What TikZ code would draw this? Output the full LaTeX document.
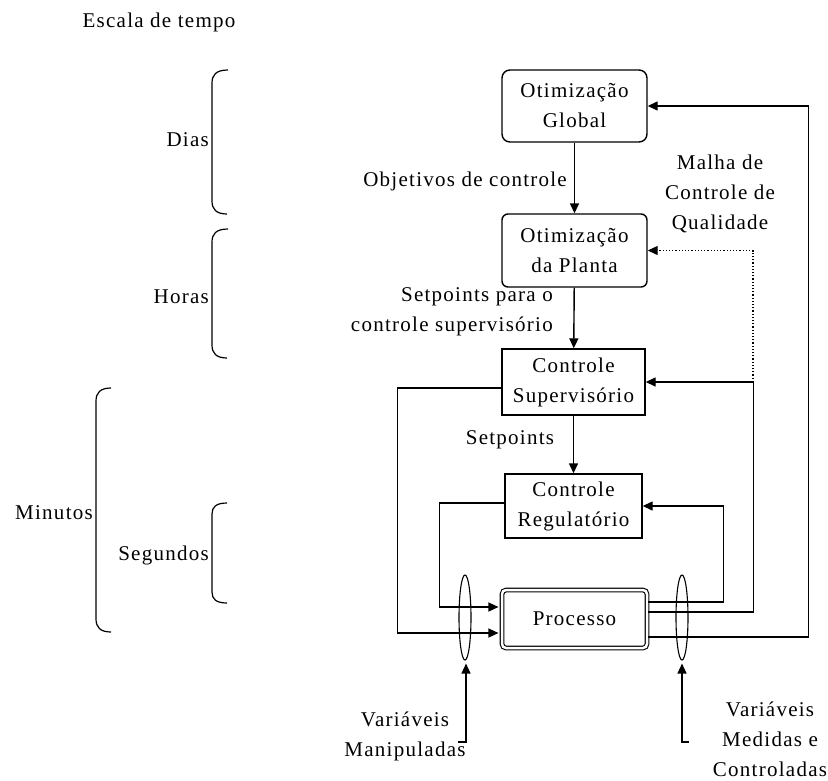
\documentclass[tikz,border=0pt]{standalone}
\usepackage{fontspec}
\setmainfont{Liberation Serif}[LetterSpace=6]
\usetikzlibrary{arrows.meta,shapes.geometric,calc}

\tikzset{
  lbl/.style={font=\fontsize{21}{30}\selectfont, inner sep=0pt, align=center},
  box/.style={draw, line width=1.4pt, lbl, minimum width=#1},
  arr/.style={line width=1.4pt, -{Triangle[length=10pt,width=9pt]}},
  bracket/.style={line width=1.2pt},
}

\begin{document}
\begin{tikzpicture}[x=1pt, y=-1pt]
\useasboundingbox (0,0) rectangle (828,780);

% time scale
\node[lbl] (scale) at (159,22) {Escala de tempo};

\draw[bracket] (228,70) .. controls (216,70) and (212,75) .. (212,83) -- (212,201) .. controls (212,209) and (216,214) .. (227,214);
\node[lbl, anchor=east] (dias) at (209,140) {Dias};

\draw[bracket] (228,229) .. controls (216,229) and (212,234) .. (212,242) -- (212,345) .. controls (212,353) and (216,358) .. (227,358);
\node[lbl, anchor=east] (horas) at (209,297) {Horas};

\draw[bracket] (111,388) .. controls (100,388) and (96,393) .. (96,401) -- (96,619) .. controls (96,627) and (100,632) .. (111,632);
\node[lbl, anchor=east] (min) at (93,513) {Minutos};

\draw[bracket] (227,503) .. controls (216,503) and (212,507) .. (212,514) -- (212,592) .. controls (212,599) and (216,603) .. (227,603);
\node[lbl, anchor=east] (seg) at (209,555) {Segundos};

% control hierarchy
\node[box=145pt, minimum height=72pt, rounded corners=8pt] (glob) at (574.5,106) {Otimização\\Global};
\node[box=145pt, minimum height=73pt, rounded corners=6pt] (plant) at (574.5,250.5) {Otimização\\da Planta};
\node[box=143pt, minimum height=66pt] (sup) at (573.5,382) {Controle\\Supervisório};
\node[box=137pt, minimum height=64pt] (reg) at (573.5,506) {Controle\\Regulatório};
\node[box=145pt, minimum height=58pt, rounded corners=4pt, double, double distance=2.5pt, line width=1.1pt] (proc) at (574.5,619) {Processo};

\draw[arr] (glob) -- (plant);
\draw[arr] (plant) -- (sup);
\draw[arr] (sup) -- (reg);

\node[lbl, anchor=east] (obj) at (567,181) {Objetivos de controle};
\node[lbl, anchor=east, align=right] (spsup) at (553,312) {Setpoints para o\\controle supervisório};
\node[lbl] (sp) at (510,440) {Setpoints};
\node[lbl] (malha) at (720,194) {Malha de\\Controle de\\Qualidade};

% feedback from the process
\draw[arr] ([yshift=-18pt]proc.east) -- ++(161,0) |- (glob.east);
\draw[arr] ([yshift=7pt]proc.east) -- ++(106,0) |- (sup.east);
\coordinate (qj) at (753,382);
\draw[line width=1.2pt, dotted, -{Triangle[length=10pt,width=9pt]}] (qj) |- (plant.east);
\draw[arr] ([yshift=17pt]proc.east) -- ++(76,0) |- (reg.east);

% manipulated inputs
\draw[arr] ([yshift=-6pt]sup.west) -- ++(-104,0) |- ([yshift=-14pt, xshift=-3pt]proc.west);
\draw[arr] ([yshift=3pt]reg.west) -- ++(-65,0) |- ([yshift=12pt, xshift=-3pt]proc.west);

% variable groups
\node[draw, ellipse, line width=1.1pt, minimum width=12pt, minimum height=85pt, inner sep=0pt] (el1) at (465,617.5) {};
\node[draw, ellipse, line width=1.1pt, minimum width=12pt, minimum height=85pt, inner sep=0pt] (el2) at (682,617.5) {};

\coordinate (b1) at (458,742);
\coordinate (b2) at (689,742);
\draw[arr] (b1) -- (466,742) -- ([yshift=-3pt, xshift=1pt]el1.south);
\draw[arr] (b2) -- (682,742) -- ([yshift=-3pt]el2.south);

\node[lbl] (vman) at (405,736) {Variáveis\\Manipuladas};
\node[lbl, anchor=south] (vmed) at (770,777) {Variáveis\\Medidas e\\Controladas};
\end{tikzpicture}
\end{document}
